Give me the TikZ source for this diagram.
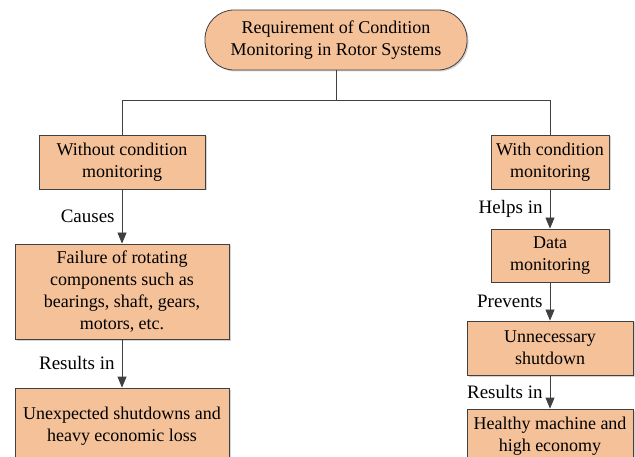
\documentclass[tikz,border=0pt]{standalone}
\usepackage{fontspec}
\setmainfont{Liberation Serif}
\newfontfamily\boxfont{Liberation Serif}
\usepackage{xcolor}
\usepackage{tikz}
\definecolor{boxorange}{RGB}{244,193,153}
\definecolor{edgegray}{RGB}{64,64,64}
\usetikzlibrary{arrows.meta,positioning,shadows}

\begin{document}
\begin{tikzpicture}[
    x=1pt, y=-1pt,
    every node/.style={font=\boxfont\fontsize{18}{22}\selectfont},
    block/.style={rectangle, draw=edgegray, line width=0.8pt, fill=boxorange, align=center, inner sep=0pt, drop shadow={shadow xshift=1.5pt, shadow yshift=-1.5pt, opacity=0.35}},
    title/.style={block, rounded corners=29pt},
    link/.style={draw=edgegray, line width=0.8pt},
    arrow/.style={link, -{Triangle[length=11pt,width=9pt]}},
    tag/.style={left=7pt, inner sep=0pt, font=\boxfont\fontsize{19}{22}\selectfont}
]
\path[use as bounding box, clip] (0,0) rectangle (635,457);

% Top
\node[title, minimum width=262pt, minimum height=60pt] (req) at (336,40) {Requirement of Condition\\Monitoring in Rotor Systems};
\coordinate (split) at (336,100);

% Without condition monitoring
\node[block, minimum width=166pt, minimum height=54pt] (without) at (122,162) {Without condition\\monitoring};
\node[block, minimum width=214pt, minimum height=95pt] (failure) at (122,291.5) {Failure of rotating\\components such as\\bearings, shaft, gears,\\motors, etc.};
\node[block, minimum width=214pt, minimum height=76pt] (loss) at (122,426) {Unexpected shutdowns and\\heavy economic loss};

% With condition monitoring
\node[block, minimum width=118pt, minimum height=54pt] (with) at (550,162) {With condition\\monitoring};
\node[block, minimum width=118pt, minimum height=53pt] (data) at (550,255.5) {Data\\monitoring};
\node[block, minimum width=166pt, minimum height=54pt] (shutdown) at (550,348) {Unnecessary\\shutdown};
\node[block, minimum width=166pt, minimum height=54pt] (healthy) at (550,436) {Healthy machine and\\high economy};

% Connectors
\draw[link] (req.south) -- (split);
\draw[link] (split) -| (without.north);
\draw[link] (split) -| (with.north);
\draw[arrow] (without) -- node[tag] {Causes} (failure);
\draw[arrow] (failure) -- node[tag] {Results in} (loss);
\draw[arrow] (with) -- node[tag] {Helps in} (data);
\draw[arrow] (data) -- node[tag] {Prevents} (shutdown);
\draw[arrow] (shutdown) -- node[tag] {Results in} (healthy);

\end{tikzpicture}
\end{document}
